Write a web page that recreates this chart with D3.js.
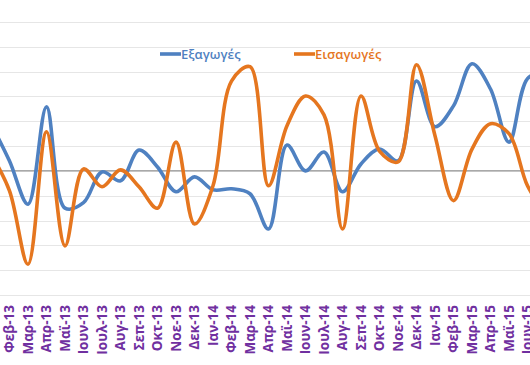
<!DOCTYPE html>
<html>
<head>
<meta charset="utf-8">
<script src="https://d3js.org/d3.v7.min.js"></script>
<style>
  body { margin: 0; background: #fff; }
  svg { display: block; }
  .grid line { stroke: #e6e6e6; stroke-width: 1px; }
  .xlab text { fill: #7030a0; font-family: "Open Sans", "Noto Sans", sans-serif; font-weight: 700; font-size: 13.5px; }
</style>
</head>
<body>
<svg width="530" height="365"></svg>
<script>
// months (first and last fall outside the visible crop)
var months = ["Ιαν-13","Φεβ-13","Μαρ-13","Απρ-13","Μαϊ-13","Ιουν-13","Ιουλ-13","Αυγ-13","Σεπ-13","Οκτ-13","Νοε-13","Δεκ-13",
              "Ιαν-14","Φεβ-14","Μαρ-14","Απρ-14","Μαϊ-14","Ιουν-14","Ιουλ-14","Αυγ-14","Σεπ-14","Οκτ-14","Νοε-14","Δεκ-14",
              "Ιαν-15","Φεβ-15","Μαρ-15","Απρ-15","Μαϊ-15","Ιουν-15","Ιουλ-15"];

var exports = [9.5, 2.0, -6.7, 12.9, -7.5, -6.4, -0.2, -2.0, 4.2, 0.8, -4.2, -1.2,
               -3.8, -3.6, -4.6, -11.7, 5.2, 0.0, 3.8, -4.2, 1.4, 4.4, 2.0, 18.1,
               8.9, 13.1, 21.6, 16.5, 5.8, 18.6, 20.2];

var imports = [3.4, -4.0, -18.8, 7.9, -15.1, 0.4, -3.2, 0.2, -3.2, -7.5, 5.8, -10.7,
               -3.0, 18.1, 21.0, -3.0, 9.1, 15.1, 11.3, -11.7, 15.1, 4.0, 1.8, 21.4,
               7.1, -6.0, 4.4, 9.5, 7.5, -3.0, -8.7];

var yTicks = [-25, -20, -15, -10, -5, 0, 5, 10, 15, 20, 25, 30];

var series = [
  { name: "Εξαγωγές", values: exports, color: "#4f81c1" },
  { name: "Εισαγωγές", values: imports, color: "#e5761f" }
];

var svg = d3.select("svg");

var x = d3.scaleBand()
  .domain(months)
  .range([-18.25, -18.25 + 18.5 * months.length])
  .padding(0);

var y = d3.scaleLinear()
  .domain([-25, 30])
  .range([295, 22]);

function cx(m) { return x(m) + x.bandwidth() / 2; }

// gridlines
svg.append("g").attr("class", "grid")
  .selectAll("line")
  .data(yTicks.filter(function(t){ return t !== 0; }))
  .enter().append("line")
    .attr("x1", 0).attr("x2", 530)
    .attr("y1", function(d){ return Math.round(y(d)) + 0.5; })
    .attr("y2", function(d){ return Math.round(y(d)) + 0.5; });

// zero line
svg.append("line")
  .attr("x1", 0).attr("x2", 530)
  .attr("y1", y(0)).attr("y2", y(0))
  .attr("stroke", "#8c8c8c").attr("stroke-width", 1.4);

// month labels (only the ones inside the crop)
var xAxis = d3.axisBottom(x)
  .tickValues(months.slice(1, months.length - 1))
  .tickSize(0).tickPadding(0);
var gx = svg.append("g").attr("class", "xlab")
  .attr("transform", "translate(0,305)")
  .call(xAxis);
gx.select(".domain").remove();
gx.selectAll("text")
  .attr("transform", "rotate(-90)")
  .attr("x", 0).attr("y", 0)
  .attr("dy", "0.35em")
  .style("text-anchor", "end");

// lines
var line = d3.line()
  .x(function(d, i){ return cx(months[i]); })
  .y(function(d){ return y(d); })
  .curve(d3.curveCatmullRom.alpha(0.5));

svg.selectAll("path.series")
  .data(series)
  .enter().append("path")
    .attr("class", "series")
    .attr("fill", "none")
    .attr("stroke", function(d){ return d.color; })
    .attr("stroke-width", 3.6)
    .attr("stroke-linejoin", "round")
    .attr("d", function(d){ return line(d.values); });

// legend
var legX = [160, 294];
var leg = svg.selectAll("g.leg")
  .data(series)
  .enter().append("g")
    .attr("class", "leg")
    .attr("transform", function(d, i){ return "translate(" + legX[i] + ",54)"; });
leg.append("line")
  .attr("x1", 0).attr("x2", 21)
  .attr("stroke", function(d){ return d.color; })
  .attr("stroke-width", 3.6);
leg.append("text")
  .attr("x", 21).attr("dy", "0.35em")
  .attr("fill", function(d){ return d.color; })
  .style("font-family", "'Open Sans', 'Noto Sans', sans-serif")
  .style("font-size", "13px")
  .style("font-weight", 600)
  .text(function(d){ return d.name; });
</script>
</body>
</html>
